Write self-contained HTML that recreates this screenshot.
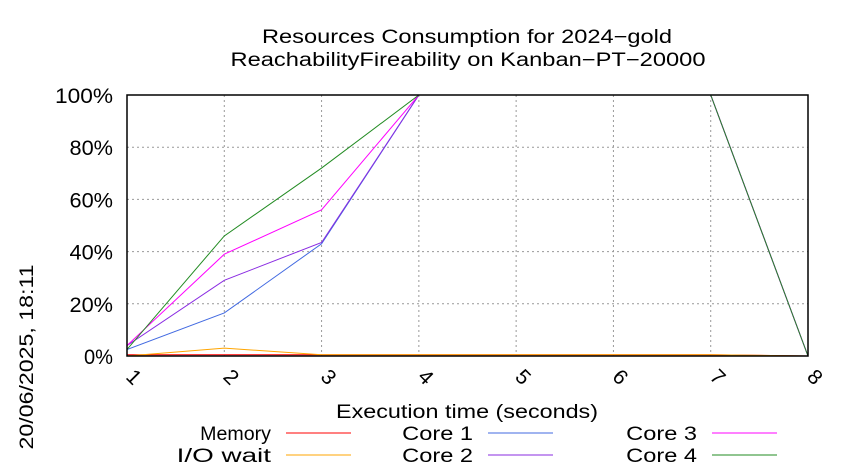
<!DOCTYPE html>
<html><head><meta charset="utf-8"><style>
body{margin:0;background:#fff;}
svg{display:block;font-family:"Liberation Sans",sans-serif;}
</style></head><body>
<svg id="chart" width="850" height="475" viewBox="0 0 850 475">
<text x="467" y="43" text-anchor="middle" font-size="19" textLength="410" lengthAdjust="spacingAndGlyphs">Resources Consumption for 2024−gold</text>
<text x="468" y="66" text-anchor="middle" font-size="19" textLength="475" lengthAdjust="spacingAndGlyphs">ReachabilityFireability on Kanban−PT−20000</text>
<text transform="translate(33,357) rotate(-90)" text-anchor="middle" font-size="19" textLength="185" lengthAdjust="spacingAndGlyphs">20/06/2025, 18:11</text>
<text x="467" y="418" text-anchor="middle" font-size="19" textLength="262" lengthAdjust="spacingAndGlyphs">Execution time (seconds)</text>
<g id="grid"></g><g id="series"></g><g id="axes"></g><g id="legend"></g>
</svg>
<script>
const xTicks=[1,2,3,4,5,6,7,8];
const yTicks=[0,20,40,60,80,100];
const times=[1,2,3,4,5,6,7,8];
const memory=[0.5,0.5,0.5,0.5,0.5,0.5,0.5,0];
const ioWait=[0,3,0.5,0.5,0.5,0.5,0.5,0];
const core1=[2.5,16.5,43,100,100,100,100,0];
const core2=[4,29,43.5,100,100,100,100,0];
const core3=[4,39,56,100,100,100,100,0];
const core4=[2.5,46,72,100,100,100,100,0];
const seriesNames=["Memory","I/O wait","Core 1","Core 2","Core 3","Core 4"];
const seriesColors=["#ff0000","#ffa500","#4169e1","#8a2be2","#ff00ff","#228b22"];
const seriesData=[memory,ioWait,core1,core2,core3,core4];
const X0=127,X1=808,Y0=356,Y1=95;
const sx=v=>X0+(v-1)/(7)*(X1-X0);
const sy=v=>Y0-v/100*(Y0-Y1);
const NS="http://www.w3.org/2000/svg";
function mk(t,a,p){const e=document.createElementNS(NS,t);for(const k in a)e.setAttribute(k,a[k]);p.appendChild(e);return e;}
const grid=document.getElementById('grid'),axes=document.getElementById('axes'),ser=document.getElementById('series'),leg=document.getElementById('legend');
yTicks.forEach(v=>{
 const l=mk('line',{x1:X0,x2:X1,y1:sy(v),y2:sy(v),stroke:'#999','stroke-dasharray':'2,3','stroke-width':1},grid);
 
 
 const s=String(v)+'%';
 const t=mk('text',{x:X0-14,y:sy(v)+8,'text-anchor':'end','font-size':21,textLength:s.length*14.5,lengthAdjust:'spacingAndGlyphs'},axes);t.textContent=s;
 
 
});
xTicks.forEach(v=>{
 const l=mk('line',{x1:sx(v),x2:sx(v),y1:Y1,y2:Y0,stroke:'#999','stroke-dasharray':'2,3','stroke-width':1},grid);
 
 
 const t=mk('text',{x:0,y:0,'text-anchor':'middle','font-size':21,transform:`translate(${sx(v)+2},${Y0+26}) rotate(45)`},axes);t.textContent=v;
 
 
});
const frame=mk('rect',{x:X0,y:Y1,width:X1-X0,height:Y0-Y1,fill:'none',stroke:'#000','stroke-width':1.5},axes);


seriesData.forEach((d,i)=>{
 const p=mk('polyline',{points:d.map((v,j)=>sx(times[j])+','+sy(v)).join(' '),fill:'none',stroke:seriesColors[i],'stroke-width':1},ser);
 
 
});
const lx=[271,473,697],ly=[440,462];
const order=[[0,0],[0,1],[1,0],[1,1],[2,0],[2,1]];
seriesNames.forEach((n,i)=>{
 const [c,r]=order[i];
 const t=mk('text',{x:lx[c],y:ly[r],'text-anchor':'end','font-size':19,textLength:n.length*11.8,lengthAdjust:'spacingAndGlyphs'},leg);t.textContent=n;
 
 
 const l=mk('line',{x1:lx[c]+15,x2:lx[c]+80,y1:ly[r]-7,y2:ly[r]-7,stroke:seriesColors[i],'stroke-width':1},leg);
 
 
});
</script>
</body></html>
